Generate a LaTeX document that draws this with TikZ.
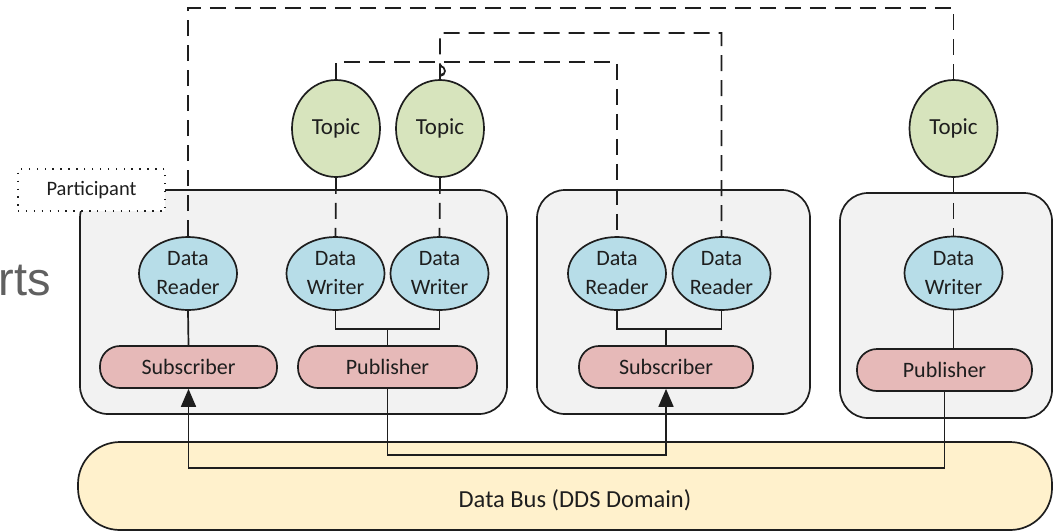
\documentclass[tikz,border=0pt]{standalone}
\usepackage{fontspec}
\setmainfont{Carlito}
\newfontfamily\sidefont{Liberation Sans}
\usetikzlibrary{shapes.geometric,arrows.meta}
\definecolor{linec}{HTML}{1E1E1E}
\definecolor{blueF}{HTML}{B7DDE8}
\definecolor{greenF}{HTML}{D7E4BD}
\definecolor{pinkF}{HTML}{E6B9B8}
\definecolor{busF}{HTML}{FFF1CC}
\definecolor{partF}{HTML}{F2F2F2}
\definecolor{sideT}{HTML}{606060}
\definecolor{textc}{HTML}{1E1E1E}
\tikzset{
  conn/.style={draw=linec, line width=1.7pt},
  dconn/.style={conn, dash pattern=on 16pt off 9pt},
  arrowconn/.style={conn, -{Triangle[length=18pt,width=15pt]}},
  entity/.style={ellipse, draw=linec, line width=1.7pt, fill=blueF,
    minimum width=98pt, minimum height=73pt, inner sep=0pt, align=center,
    text=textc, font=\fontsize{22}{29}\selectfont},
  topicnode/.style={ellipse, draw=linec, line width=1.7pt, fill=greenF,
    minimum width=88pt, minimum height=97pt, inner sep=0pt,
    text=textc, font=\fontsize{23}{26}\selectfont},
  pill/.style={rectangle, rounded corners=20pt, draw=linec, line width=1.7pt,
    fill=pinkF, minimum height=42pt, inner sep=0pt,
    text=textc, font=\fontsize{22}{25}\selectfont},
  partbox/.style={rectangle, rounded corners=28pt, draw=linec, line width=1.7pt,
    fill=partF, inner sep=0pt},
}
\begin{document}
\begin{tikzpicture}[x=1pt,y=-1pt]
\useasboundingbox (0,0) rectangle (1064,531);

% side caption fragment
\node[anchor=base east, inner sep=0pt, text=sideT, font=\sidefont\fontsize{47}{50}\selectfont] (side) at (51,295) {rts};

% data bus
\node[rectangle, rounded corners=42pt, draw=linec, line width=1.7pt, fill=busF,
  minimum width=974pt, minimum height=88pt, inner sep=0pt] (bus) at (565,486) {};
\node[text=textc, font=\fontsize{24.5}{28}\selectfont, inner sep=0pt] (buslabel) at (575,500) {Data Bus (DDS Domain)};

% participants
\node[partbox, minimum width=427pt, minimum height=224pt] (p1) at (293.5,302) {};
\node[partbox, minimum width=273pt, minimum height=224pt] (p2) at (673.5,302) {};
\node[partbox, minimum width=212pt, minimum height=225pt] (p3) at (946,305.5) {};

% entities
\node[entity] (dr1) at (188,273.5) {Data\\Reader};
\node[entity] (dw1) at (335.5,273.5) {Data\\Writer};
\node[entity] (dw2) at (439.5,273.5) {Data\\Writer};
\node[entity] (dr2) at (617,273.5) {Data\\Reader};
\node[entity] (dr3) at (721.5,273.5) {Data\\Reader};
\node[entity] (dw3) at (953.5,273) {Data\\Writer};

\node[topicnode] (t1) at (336,128.5) {Topic};
\node[topicnode] (t2) at (440,128.5) {Topic};
\node[topicnode] (t3) at (953.5,128.5) {Topic};

\node[pill, minimum width=177pt] (sub1) at (188.5,367) {Subscriber};
\node[pill, minimum width=179pt] (pub1) at (387.5,367) {Publisher};
\node[pill, minimum width=174pt] (sub2) at (666,367) {Subscriber};
\node[pill, minimum width=175pt] (pub3) at (944.5,370) {Publisher};

% helper levels
\coordinate (lvtop) at (0,8);
\coordinate (lvmidA) at (0,33);
\coordinate (lvmidB) at (0,62);
\coordinate (lvbusA) at (0,455);
\coordinate (lvbusB) at (0,468);
\coordinate (j1) at (387.5,329);
\coordinate (j2) at (666,329);

% solid links inside participants
\draw[conn] (dr1.south) -- (sub1.north);
\draw[conn] (dw1.south) |- (j1) -| (dw2.south);
\draw[conn] (j1) -- (pub1.north);
\draw[conn] (dr2.south) |- (j2) -| (dr3.south);
\draw[conn] (j2) -- (sub2.north);
\draw[conn] (dw3.south) -- (dw3.south |- pub3.north);

% links across the bus
\draw[arrowconn] (pub1.south) -- (pub1.south |- lvbusA) -| (sub2.south);
\draw[arrowconn] (pub3.south) -- (pub3.south |- lvbusB) -| (sub1.south);

% topic associations
\draw[dconn] (t1.south) -- (dw1.north);
\draw[dconn] (t2.south) -- (dw2.north);
\draw[dconn] (t3.south) -- (dw3.north);
\draw[dconn] (dr1.north) -- (dr1.north |- lvtop) -| (t3.north);
\draw[dconn] (t1.north) -- (t1.north |- lvmidB) -| (dr2.north);
\draw[dconn] (t2.north) -- ++(0,-14) arc[start angle=90, end angle=-90, radius=5pt]
  -- (t2.north |- lvmidA) -| (dr3.north);
\draw[conn] (440,66) arc[start angle=90, end angle=-90, radius=5pt];

% participant tag
\node[rectangle, draw=linec, line width=1.4pt, dash pattern=on 1.4pt off 6.5pt,
  fill=white, minimum width=147pt, minimum height=42pt, inner sep=0pt,
  text=textc, font=\fontsize{20.5}{23}\selectfont] (ptag) at (91.5,190) {Participant};
\end{tikzpicture}
\end{document}
